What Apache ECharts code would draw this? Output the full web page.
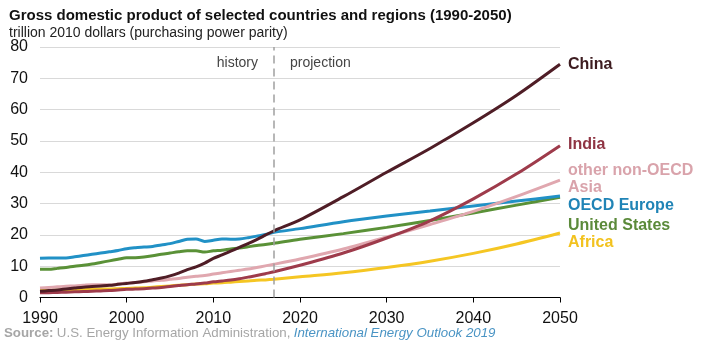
<!DOCTYPE html>
<html>
<head>
<meta charset="utf-8">
<script src="https://cdn.jsdelivr.net/npm/echarts@6/dist/echarts.min.js"></script>
<style>
  html, body { margin: 0; padding: 0; background: #fff; }
  #chart { width: 708px; height: 343px; }
</style>
</head>
<body>
<div id="chart"></div>
<script>
// Years: annual history, five-year steps in the projection
var histYears = [1990,1991,1992,1993,1994,1995,1996,1997,1998,1999,2000,2001,2002,2003,2004,2005,2006,2007,2008,2009,2010,2011,2012,2013,2014,2015,2016,2017];
var projYears = [2020,2025,2030,2035,2040,2045,2050];
var lastHistoryYear = 2017;

// GDP, trillion 2010 dollars (PPP)
var chinaHist  = [2.0,2.2,2.4,2.7,3.0,3.3,3.5,3.7,3.9,4.2,4.5,4.8,5.2,5.7,6.2,6.9,7.8,8.9,9.8,11.0,12.5,13.6,14.8,16.0,17.2,18.5,19.9,21.3];
var chinaProj  = [24.8,32.2,40.0,47.6,55.8,64.6,74.5];
var indiaHist  = [1.5,1.55,1.6,1.7,1.8,1.9,2.0,2.1,2.2,2.4,2.6,2.7,2.8,3.0,3.2,3.5,3.8,4.1,4.3,4.6,5.0,5.3,5.6,6.0,6.5,7.0,7.6,8.2];
var indiaProj  = [10.3,14.2,19.0,24.5,31.5,39.5,48.5];
var asiaHist   = [3.0,3.2,3.4,3.6,3.7,3.9,4.1,4.1,4.0,4.3,4.6,4.8,5.0,5.3,5.5,5.8,6.1,6.5,6.8,7.0,7.5,7.9,8.3,8.7,9.1,9.6,10.1,10.6];
var asiaProj   = [12.3,15.5,19.3,23.3,27.5,32.3,37.5];
var europeHist = [12.5,12.6,12.6,12.6,13.0,13.4,13.8,14.2,14.6,15.0,15.6,15.9,16.1,16.3,16.8,17.2,17.9,18.6,18.7,17.9,18.3,18.7,18.6,18.7,19.1,19.6,20.1,20.8];
var europeProj = [22.0,24.2,26.0,27.6,29.2,30.8,32.4];
var usHist     = [9.0,9.0,9.3,9.6,10.0,10.3,10.7,11.2,11.7,12.2,12.7,12.7,12.9,13.3,13.8,14.2,14.6,14.9,14.9,14.5,14.9,15.1,15.5,15.8,16.2,16.6,16.9,17.3];
var usProj     = [18.6,20.4,22.4,24.6,27.0,29.5,32.0];
var africaHist = [2.3,2.3,2.3,2.4,2.4,2.5,2.6,2.7,2.7,2.8,2.9,3.0,3.1,3.3,3.5,3.7,3.9,4.1,4.3,4.4,4.6,4.7,4.9,5.1,5.3,5.5,5.6,5.8];
var africaProj = [6.6,7.9,9.6,11.6,14.1,17.1,20.6];

var yTicks = [0,10,20,30,40,50,60,70,80];
var xTicks = [1990,2000,2010,2020,2030,2040,2050];

function pairs(hist, proj) {
  var out = [];
  histYears.forEach(function (y, i) { out.push([y, hist[i]]); });
  projYears.forEach(function (y, i) { out.push([y, proj[i]]); });
  return out;
}

var seriesDefs = [
  { name: 'Africa',        hist: africaHist, proj: africaProj, line: '#f5c623', text: '#f2c21f', dy: 10 },
  { name: 'United States', hist: usHist,     proj: usProj,     line: '#5a9137', text: '#5b8a3a', dy: 28 },
  { name: 'OECD Europe',   hist: europeHist, proj: europeProj, line: '#2191c6', text: '#2084b6', dy: 10 },
  { name: 'other non-OECD\nAsia', hist: asiaHist, proj: asiaProj, line: '#e0a7af', text: '#d9a3ab', dy: -1 },
  { name: 'India',         hist: indiaHist,  proj: indiaProj,  line: '#9e3b4b', text: '#8f3443', dy: -1 },
  { name: 'China',         hist: chinaHist,  proj: chinaProj,  line: '#4f1d26', text: '#3d1c20', dy: 0 }
];

var series = seriesDefs.map(function (d) {
  return {
    name: d.name,
    type: 'line',
    data: pairs(d.hist, d.proj),
    smooth: 0.3,
    symbol: 'none',
    lineStyle: { color: d.line, width: 3 },
    itemStyle: { color: d.line },
    endLabel: {
      show: true,
      formatter: '{a}',
      distance: 8,
      offset: [0, d.dy],
      color: d.text,
      fontWeight: 'bold',
      fontSize: 16,
      lineHeight: 17,
      fontFamily: 'Liberation Sans, Arial, sans-serif'
    },
    silent: true
  };
});

// history / projection divider
series[0].markLine = {
  silent: true,
  symbol: 'none',
  label: { show: false },
  lineStyle: { color: '#a0a0a0', type: [8, 5], width: 1.5 },
  data: [{ xAxis: lastHistoryYear }]
};
series[0].markArea = {
  silent: true,
  itemStyle: { color: 'rgba(0,0,0,0)' },
  label: { fontSize: 14, color: '#444', fontFamily: 'Liberation Sans, Arial, sans-serif', distance: 0 },
  data: [
    [{ xAxis: 1990, name: 'history', label: { position: 'insideTopRight', offset: [-16, 9] } }, { xAxis: lastHistoryYear }],
    [{ xAxis: lastHistoryYear, name: 'projection', label: { position: 'insideTopLeft', offset: [16, 9] } }, { xAxis: 2050 }]
  ]
};

var chart = echarts.init(document.getElementById('chart'));
chart.setOption({
  animation: false,
  backgroundColor: '#fff',
  title: {
    text: 'Gross domestic product of selected countries and regions (1990-2050)',
    subtext: 'trillion 2010 dollars (purchasing power parity)',
    left: 4,
    top: 3,
    itemGap: 3,
    textStyle: { fontSize: 15, fontWeight: 'bold', color: '#111', fontFamily: 'Liberation Sans, Arial, sans-serif' },
    subtextStyle: { fontSize: 14, color: '#222', fontFamily: 'Liberation Sans, Arial, sans-serif' }
  },
  grid: { left: 40, right: 148, top: 47, bottom: 45.5 },
  xAxis: {
    type: 'value',
    min: xTicks[0],
    max: xTicks[xTicks.length - 1],
    interval: 10,
    axisLine: { show: true, lineStyle: { color: '#000', width: 1.2 } },
    axisTick: { show: true, length: 5, lineStyle: { color: '#000' } },
    splitLine: { show: false },
    axisLabel: {
      fontSize: 16, color: '#111', margin: 13, fontFamily: 'Liberation Sans, Arial, sans-serif',
      formatter: function (v) { return String(v); }
    }
  },
  yAxis: {
    type: 'value',
    min: yTicks[0],
    max: yTicks[yTicks.length - 1],
    interval: 10,
    axisLine: { show: false },
    axisTick: { show: false },
    splitLine: { lineStyle: { color: '#d9d9d9', width: 1.2 } },
    axisLabel: { fontSize: 16, color: '#111', margin: 12, fontFamily: 'Liberation Sans, Arial, sans-serif' }
  },
  graphic: [{
    type: 'text',
    left: 4,
    top: 327,
    style: {
      text: '{b|Source:} {n|U.S. Energy Information Administration,} {i|International Energy Outlook 2019}',
      rich: {
        b: { fontSize: 13.3, fontWeight: 'bold', fill: '#a6a6a6', fontFamily: 'Liberation Sans, Arial, sans-serif' },
        n: { fontSize: 13.3, fill: '#a6a6a6', fontFamily: 'Liberation Sans, Arial, sans-serif' },
        i: { fontSize: 13.3, fontStyle: 'italic', fill: '#4a94c4', fontFamily: 'Liberation Sans, Arial, sans-serif' }
      }
    }
  }],
  series: series
});
</script>
</body>
</html>
